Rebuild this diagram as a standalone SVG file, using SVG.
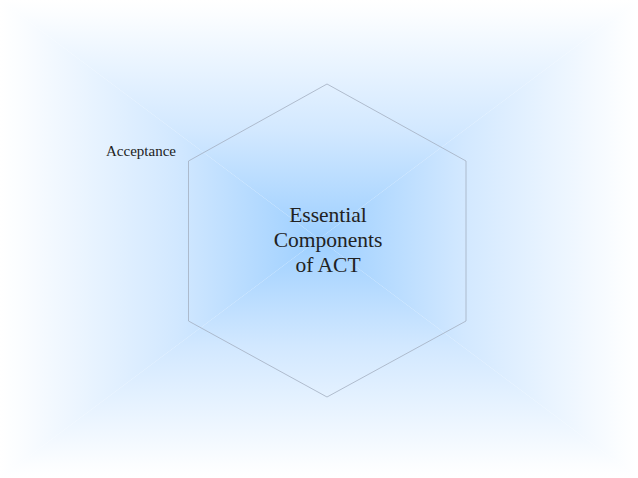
<svg xmlns="http://www.w3.org/2000/svg" width="638" height="478" viewBox="0 0 638 478">
<defs>
<linearGradient id="g" gradientUnits="objectBoundingBox"><stop offset="0" stop-color="#ffffff"/><stop offset="0.06" stop-color="#fbfdff"/><stop offset="0.55" stop-color="#d2e8ff"/><stop offset="1" stop-color="#9dcfff"/></linearGradient>
<linearGradient id="gt" href="#g" gradientUnits="userSpaceOnUse" x1="0" y1="0" x2="0" y2="239"/>
<linearGradient id="gb" href="#g" gradientUnits="userSpaceOnUse" x1="0" y1="478" x2="0" y2="239"/>
<linearGradient id="gl" href="#g" gradientUnits="userSpaceOnUse" x1="0" y1="0" x2="319" y2="0"/>
<linearGradient id="gr" href="#g" gradientUnits="userSpaceOnUse" x1="638" y1="0" x2="319" y2="0"/>
<style>
.t{font-family:"Liberation Serif","Times New Roman",serif;fill:#222222}
.hex{fill:none;stroke:#a3afc0;stroke-width:0.8}
</style>
</defs>
<g id="background">
<polygon points="0,0 638,0 319,239" fill="url(#gt)"/>
<polygon points="0,478 638,478 319,239" fill="url(#gb)"/>
<polygon points="0,0 0,478 319,239" fill="url(#gl)"/>
<polygon points="638,0 638,478 319,239" fill="url(#gr)"/>
</g>
<g id="hexagon">
<polygon class="hex" points="327,84 466,161 466,321 327,397 188.5,321 188.5,161"/>
<text class="t" x="328" y="222" font-size="21.5" text-anchor="middle">Essential</text>
<text class="t" x="328" y="247" font-size="21.5" text-anchor="middle">Components</text>
<text class="t" x="328" y="272" font-size="21.5" text-anchor="middle">of ACT</text>
</g>
<g id="acceptance">
<text class="t" x="106" y="156" font-size="15">Acceptance</text>
</g>
<g id="connectors"/>
</svg>
